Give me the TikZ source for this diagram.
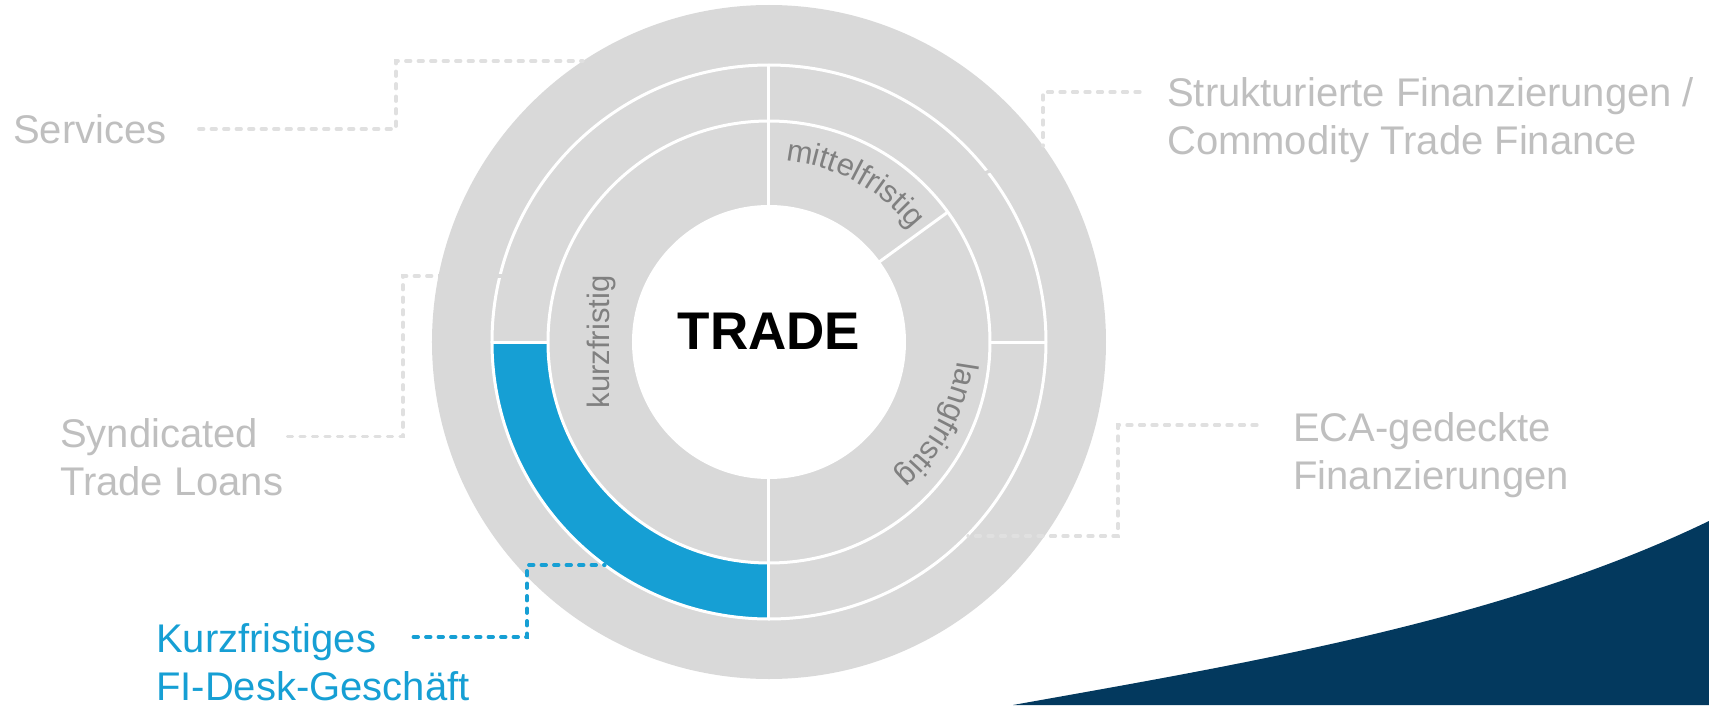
\documentclass[tikz,border=0pt]{standalone}
\usepackage{fontspec}
\setmainfont{Liberation Sans}
\usepackage{tikz}
\usetikzlibrary{calc, decorations.text}
\definecolor{discgray}{RGB}{217,217,217}
\definecolor{lblgray}{RGB}{191,191,191}
\definecolor{conngray}{RGB}{224,224,224}
\definecolor{termgray}{RGB}{128,128,128}
\definecolor{fiblue}{RGB}{22,159,212}
\definecolor{navy}{RGB}{3,57,94}
\newcommand{\termfont}{\fontsize{31}{31}\selectfont}
\tikzset{
  lbl/.style={anchor=west, inner sep=0pt, align=left, text=lblgray,
    font=\fontsize{40}{48}\selectfont},
  filbl/.style={lbl, text=fiblue},
  conn/.style={draw=conngray, line width=3.3pt, line cap=round,
    dash pattern=on 5pt off 7.5pt},
  ficonn/.style={conn, draw=fiblue},
  hidden/.style={draw=discgray, line width=3.3pt},
  sepline/.style={draw=white, line width=3pt},
  term/.style={inner sep=0pt, text=termgray, font=\termfont},
  curved/.style={decorate, decoration={text along path, text align=center,
    text color=termgray, text={|\termfont|#1}}}
}

\begin{document}
\begin{tikzpicture}[x=1pt, y=1pt]
  \useasboundingbox (-769,-363) rectangle (940,342);

  % Background swoosh
  \fill[navy] (244,-363) .. controls (485,-320) and (735,-278) .. (940,-179)
    -- (940,-363) -- cycle;

  % Rings
  \fill[discgray] (0,0) circle[radius=337];
  \fill[fiblue] (180:277) arc[start angle=180, end angle=270, radius=277]
    -- (270:221) arc[start angle=270, end angle=180, radius=221] -- cycle;
  \draw[sepline] (0,0) circle[radius=277];
  \draw[sepline] (0,0) circle[radius=221];
  \foreach \a in {0,90,180,270}
    \draw[sepline] (\a:221) -- (\a:277);
  \foreach \a in {90,270,36}
    \draw[sepline] (\a:130) -- (\a:221);
  \fill[white] (0,0) circle[radius=137];

  % Nodes
  \node[font=\fontsize{53}{53}\selectfont\bfseries, inner sep=0pt] (trade) at (0,11) {TRADE};
  \node[term, rotate=90] (kurz) at (-168,0) {kurzfristig};
  \path[curved=mittelfristig] (88:182) arc[start angle=88, end angle=35, radius=182];
  \path[curved=langfristig] (6,6) ++(-2:184) arc[start angle=-2, end angle=-55, radius=184];

  \node[lbl] (srv) at (-756,213) {Services};
  \node[lbl] (syn) at (-709,-114.75) {Syndicated\\Trade Loans};
  \node[lbl] (stf) at (398,222) {Strukturierte Finanzierungen /\\Commodity Trade Finance};
  \node[lbl] (eca) at (524,-113) {ECA-gedeckte\\Finanzierungen};
  \node[filbl] (kfg) at (-613,-320) {Kurzfristiges\\FI-Desk-Geschäft};

  \coordinate (srvbend) at (-373,281);
  \coordinate (srvend) at (-186,281);
  \coordinate (synbend) at (-366,66);
  \coordinate (synend) at (-330.5,66);
  \coordinate (synring) at (-266,66);
  \coordinate (stfend) at (274,196);
  \coordinate (stfring) at (214,168);
  \coordinate (ecabend) at (349,-194);
  \coordinate (ecaend) at (199,-194);
  \coordinate (kfgbend) at (-242,-223);
  \coordinate (kfgend) at (-164,-223);

  % Paths
  \draw[hidden] (synend) -- (synring);
  \draw[hidden] (stfend) -- (stfring);
  \draw[conn] ([xshift=32pt]srv.east) -| (srvbend) -- (srvend);
  \draw[conn] ([shift={(4pt,20pt)}]syn.east) -| (synbend) -- (synend);
  \draw[conn] ([shift={(-27pt,28pt)}]stf.west) -| (stfend);
  \draw[conn] ([shift={(-36pt,30pt)}]eca.west) -| (ecabend) -- (ecaend);
  \draw[ficonn] ([shift={(-56.5pt,25pt)}]kfg.east) -| (kfgbend) -- (kfgend);
\end{tikzpicture}
\end{document}
